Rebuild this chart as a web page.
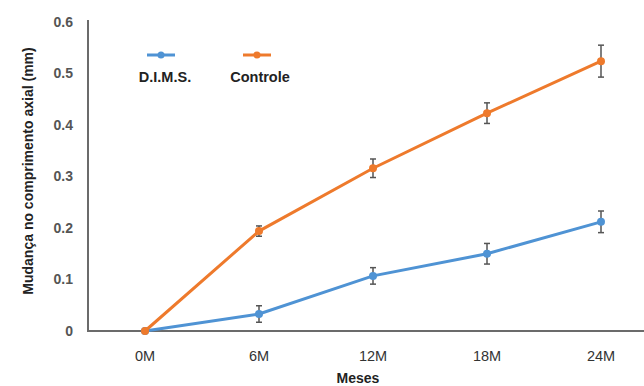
<!DOCTYPE html>
<html>
<head>
<meta charset="utf-8">
<script src="https://cdn.jsdelivr.net/npm/d3@7"></script>
<style>
  body { margin: 0; background: #fff; }
  svg { display: block; font-family: "Liberation Sans", Arial, sans-serif; }
</style>
</head>
<body>
<script>
const width = 644;
const height = 386;
const margin = { top: 22, right: -14, bottom: 55, left: 88 };

const meses = ["0M", "6M", "12M", "18M", "24M"];
const dims = [0, 0.033, 0.107, 0.15, 0.212];
const dimsErro = [0, 0.016, 0.016, 0.02, 0.021];
const controle = [0, 0.194, 0.316, 0.423, 0.524];
const controleErro = [0, 0.01, 0.018, 0.02, 0.031];
const ticksY = [0, 0.1, 0.2, 0.3, 0.4, 0.5, 0.6];

const series = [
  { nome: "D.I.M.S.", valores: dims, erros: dimsErro, cor: "#4f93d4" },
  { nome: "Controle", valores: controle, erros: controleErro, cor: "#ee7a2c" },
];

const svg = d3
  .select("body")
  .append("svg")
  .attr("width", width)
  .attr("height", height);

const x = d3
  .scaleBand()
  .domain(meses)
  .range([margin.left, width - margin.right]);

const y = d3
  .scaleLinear()
  .domain([0, 0.6])
  .range([height - margin.bottom, margin.top]);

const cx = (m) => x(m) + x.bandwidth() / 2;

// eixos
svg
  .append("line")
  .attr("x1", margin.left)
  .attr("x2", margin.left)
  .attr("y1", y(0.6) - 2)
  .attr("y2", y(0))
  .attr("stroke", "#6b6b6b")
  .attr("stroke-width", 2);

svg
  .append("line")
  .attr("x1", margin.left - 1)
  .attr("x2", width)
  .attr("y1", y(0))
  .attr("y2", y(0))
  .attr("stroke", "#6b6b6b")
  .attr("stroke-width", 2);

svg
  .append("g")
  .selectAll("text")
  .data(ticksY)
  .join("text")
  .attr("x", 73)
  .attr("y", (d) => y(d))
  .attr("dy", "0.35em")
  .attr("text-anchor", "end")
  .attr("font-size", 14)
  .attr("font-weight", "bold")
  .attr("fill", "#555")
  .text((d) => (d === 0 ? "0" : d3.format(".1f")(d)));

svg
  .append("g")
  .selectAll("text")
  .data(meses)
  .join("text")
  .attr("x", (d) => cx(d))
  .attr("y", 361)
  .attr("text-anchor", "middle")
  .attr("font-size", 14.5)
  .attr("fill", "#333")
  .text((d) => d);

svg
  .append("text")
  .attr("x", 358)
  .attr("y", 383)
  .attr("text-anchor", "middle")
  .attr("font-size", 14)
  .attr("font-weight", "bold")
  .attr("fill", "#222")
  .text("Meses");

svg
  .append("text")
  .attr("transform", `translate(33, 171) rotate(-90)`)
  .attr("text-anchor", "middle")
  .attr("font-size", 14)
  .attr("font-weight", "bold")
  .attr("fill", "#222")
  .text("Mudança no comprimento axial (mm)");

// séries
const linha = d3
  .line()
  .x((d, i) => cx(meses[i]))
  .y((d) => y(d));

series.forEach((s) => {
  const g = svg.append("g");

  g.append("path")
    .datum(s.valores)
    .attr("d", linha)
    .attr("fill", "none")
    .attr("stroke", s.cor)
    .attr("stroke-width", 3);

  const barras = g
    .selectAll("g.erro")
    .data(s.valores.map((v, i) => ({ m: meses[i], v, e: s.erros[i] })).filter((d) => d.e > 0))
    .join("g")
    .attr("class", "erro")
    .attr("stroke", "#555")
    .attr("stroke-width", 1.5);

  barras
    .append("line")
    .attr("x1", (d) => cx(d.m))
    .attr("x2", (d) => cx(d.m))
    .attr("y1", (d) => y(d.v - d.e))
    .attr("y2", (d) => y(d.v + d.e));

  barras
    .append("line")
    .attr("x1", (d) => cx(d.m) - 3)
    .attr("x2", (d) => cx(d.m) + 3)
    .attr("y1", (d) => y(d.v + d.e))
    .attr("y2", (d) => y(d.v + d.e));

  barras
    .append("line")
    .attr("x1", (d) => cx(d.m) - 3)
    .attr("x2", (d) => cx(d.m) + 3)
    .attr("y1", (d) => y(d.v - d.e))
    .attr("y2", (d) => y(d.v - d.e));

  g.selectAll("circle")
    .data(s.valores)
    .join("circle")
    .attr("cx", (d, i) => cx(meses[i]))
    .attr("cy", (d) => y(d))
    .attr("r", 4)
    .attr("fill", s.cor);
});

// legenda
const legenda = svg
  .append("g")
  .selectAll("g")
  .data(series)
  .join("g")
  .attr("transform", (d, i) => `translate(${161 + i * 96}, 0)`);

legenda
  .append("line")
  .attr("x1", -14)
  .attr("x2", 14)
  .attr("y1", 55)
  .attr("y2", 55)
  .attr("stroke", (d) => d.cor)
  .attr("stroke-width", 3);

legenda
  .append("circle")
  .attr("cx", 0)
  .attr("cy", 55)
  .attr("r", 3.5)
  .attr("fill", (d) => d.cor);

legenda
  .append("text")
  .attr("x", (d, i) => (i === 0 ? 4 : 3))
  .attr("y", 82)
  .attr("text-anchor", "middle")
  .attr("font-size", 14.5)
  .attr("font-weight", "bold")
  .attr("fill", "#222")
  .text((d) => d.nome);
</script>
</body>
</html>
